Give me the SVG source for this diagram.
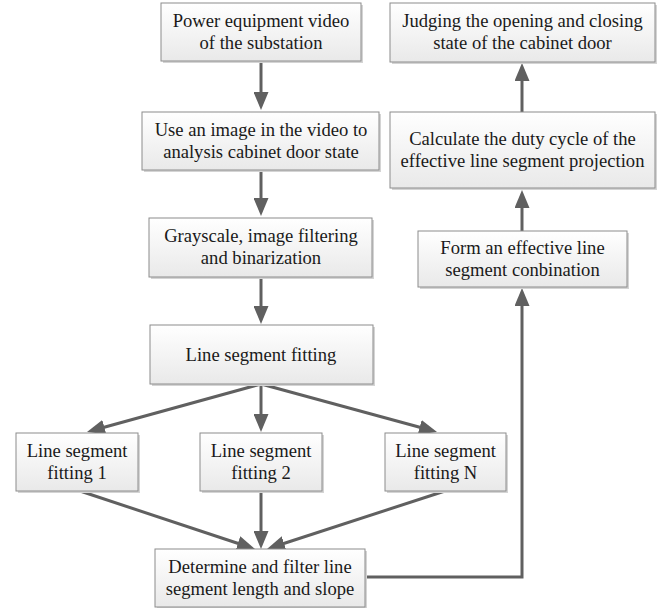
<svg xmlns="http://www.w3.org/2000/svg" width="666" height="610" viewBox="0 0 666 610" font-family="Liberation Serif, serif">
<style>
.box{fill:url(#g);stroke:#8c8c8c;stroke-width:1}
.sh{fill:#d4d4d4}
.t{font-family:'Liberation Serif',serif;font-size:18.6px;fill:#1a1a1a;text-anchor:middle}
.c{fill:none;stroke:#606060;stroke-width:3}
</style>
<defs>
<linearGradient id="g" x1="0" y1="0" x2="0" y2="1">
<stop offset="0" stop-color="#ffffff"/>
<stop offset="1" stop-color="#e9e9e9"/>
</linearGradient>
<marker id="a" markerUnits="userSpaceOnUse" markerWidth="18" markerHeight="15" refX="2" refY="7.5" orient="auto" viewBox="0 0 18 15">
<path d="M0,0 L18,7.5 L0,15 z" fill="#606060"/>
</marker>
</defs>
<rect width="666" height="610" fill="#ffffff"/>
<g id="connectors">
<line class="c" x1="261" y1="61" x2="261" y2="94" marker-end="url(#a)"/>
<line class="c" x1="261" y1="170" x2="261" y2="200" marker-end="url(#a)"/>
<line class="c" x1="261" y1="277" x2="261" y2="308" marker-end="url(#a)"/>
<line class="c" x1="261" y1="384" x2="261" y2="416" marker-end="url(#a)"/>
<line class="c" x1="261" y1="384" x2="102.4" y2="427.7" marker-end="url(#a)"/>
<line class="c" x1="261" y1="384" x2="421.6" y2="427.8" marker-end="url(#a)"/>
<line class="c" x1="80" y1="491" x2="239.8" y2="544" marker-end="url(#a)"/>
<line class="c" x1="261" y1="491" x2="261" y2="533" marker-end="url(#a)"/>
<line class="c" x1="445" y1="491" x2="282.2" y2="544" marker-end="url(#a)"/>
<polyline class="c" points="365,577 522,577 522,304" marker-end="url(#a)"/>
<line class="c" x1="522" y1="231" x2="522" y2="206" marker-end="url(#a)"/>
<line class="c" x1="522" y1="112" x2="522" y2="79" marker-end="url(#a)"/>
</g>
<g id="n1"><rect class="sh" x="163" y="5" width="200" height="58"/><rect class="box" x="161" y="3" width="200" height="58"/><text class="t" x="261" y="27">Power equipment video</text><text class="t" x="261" y="49">of the substation</text></g>
<g id="n2"><rect class="sh" x="144" y="114" width="237" height="58"/><rect class="box" x="142" y="112" width="237" height="58"/><text class="t" x="261" y="136">Use an image in the video to</text><text class="t" x="261" y="158">analysis cabinet door state</text></g>
<g id="n3"><rect class="sh" x="151" y="220" width="223" height="59"/><rect class="box" x="149" y="218" width="223" height="59"/><text class="t" x="261" y="242">Grayscale, image filtering</text><text class="t" x="261" y="264">and binarization</text></g>
<g id="n4"><rect class="sh" x="152" y="327" width="223" height="59"/><rect class="box" x="150" y="325" width="223" height="59"/><text class="t" x="261" y="361">Line segment fitting</text></g>
<g id="n5"><rect class="sh" x="18" y="435" width="122" height="58"/><rect class="box" x="16" y="433" width="122" height="58"/><text class="t" x="77" y="457">Line segment</text><text class="t" x="77" y="479">fitting 1</text></g>
<g id="n6"><rect class="sh" x="202" y="435" width="122" height="58"/><rect class="box" x="200" y="433" width="122" height="58"/><text class="t" x="261" y="457">Line segment</text><text class="t" x="261" y="479">fitting 2</text></g>
<g id="n7"><rect class="sh" x="387" y="435" width="121" height="58"/><rect class="box" x="385" y="433" width="121" height="58"/><text class="t" x="445.5" y="457">Line segment</text><text class="t" x="445.5" y="479">fitting N</text></g>
<g id="n8"><rect class="sh" x="157" y="551" width="210" height="57"/><rect class="box" x="155" y="549" width="210" height="58"/><text class="t" x="260" y="573">Determine and filter line</text><text class="t" x="260" y="595">segment length and slope</text></g>
<g id="n9"><rect class="sh" x="420" y="233" width="209" height="56"/><rect class="box" x="418" y="231" width="209" height="56"/><text class="t" x="522.5" y="254">Form an effective line</text><text class="t" x="522.5" y="276">segment conbination</text></g>
<g id="n10"><rect class="sh" x="392" y="114" width="265" height="76"/><rect class="box" x="390" y="112" width="265" height="76"/><text class="t" x="522.5" y="145">Calculate the duty cycle of the</text><text class="t" x="522.5" y="167">effective line segment projection</text></g>
<g id="n11"><rect class="sh" x="392" y="5" width="265" height="59"/><rect class="box" x="390" y="3" width="265" height="59"/><text class="t" x="522.5" y="27">Judging the opening and closing</text><text class="t" x="522.5" y="49">state of the cabinet door</text></g>
</svg>
